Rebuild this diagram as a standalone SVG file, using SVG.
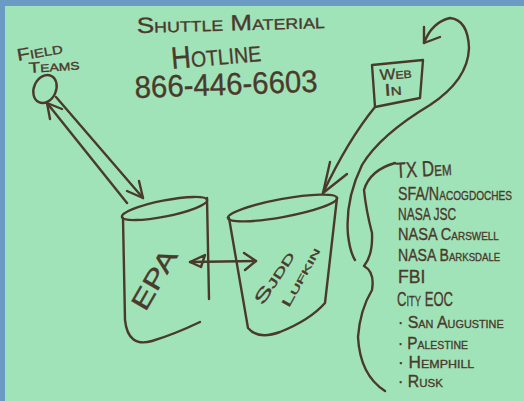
<svg xmlns="http://www.w3.org/2000/svg" width="524" height="401" viewBox="0 0 524 401">
<style>
.ink{fill:none;stroke:#4a3a2c;stroke-width:2.4;stroke-linecap:round;stroke-linejoin:round}
.t{fill:#4a3a2c;font-family:"Liberation Sans","DejaVu Sans",sans-serif;font-variant:small-caps;stroke:#4a3a2c;stroke-width:0.35}
</style>
<rect x="0" y="0" width="524" height="401" fill="#6b9bc4"/>
<rect x="5" y="6" width="519" height="395" fill="#a1e3b9"/>
<g id="title">
<text class="t" x="137" y="33" font-size="22" textLength="188" lengthAdjust="spacingAndGlyphs" transform="rotate(-1.5 137 33)">Shuttle Material</text>
<text class="t" x="172" y="69" font-size="31" textLength="90" lengthAdjust="spacingAndGlyphs" transform="rotate(-5 172 69)">Hotline</text>
<text class="t" x="135" y="98" font-size="31" textLength="183" lengthAdjust="spacingAndGlyphs" transform="rotate(-2 135 98)">866-446-6603</text>
</g>
<g id="field-teams">
<text class="t" x="18" y="61" font-size="17" textLength="46" lengthAdjust="spacingAndGlyphs" transform="rotate(-10 18 61)">Field</text>
<text class="t" x="29" y="73" font-size="15" textLength="51" lengthAdjust="spacingAndGlyphs" transform="rotate(-4 29 73)">Teams</text>
<ellipse class="ink" cx="45" cy="89" rx="11" ry="14.5" transform="rotate(25 45 89)"/>
</g>
<g id="web-in">
<path class="ink" d="M372,65 L423,60 L420,98 L375,107 Z"/>
<text class="t" x="380" y="80" font-size="15" textLength="32" lengthAdjust="spacingAndGlyphs" transform="rotate(-4 380 80)">Web</text>
<text class="t" x="385" y="96" font-size="17" textLength="17" lengthAdjust="spacingAndGlyphs" transform="rotate(-4 385 96)">In</text>
</g>
<g id="epa">
<ellipse class="ink" cx="164.5" cy="208.5" rx="43.5" ry="8" transform="rotate(-11.3 164.5 208.5)"/>
<path class="ink" d="M123,218 L125,320 Q128,348 152,341 Q175,334 200,322"/>
<path class="ink" d="M207,198 L209,299"/>
<text class="t" x="155" y="288" font-size="26" text-anchor="middle" textLength="66" lengthAdjust="spacingAndGlyphs" transform="rotate(-60 155 280)">EPA</text>
</g>
<g id="lufkin">
<ellipse class="ink" cx="282.5" cy="208" rx="55.5" ry="9" transform="rotate(-10.4 282.5 208)"/>
<path class="ink" d="M229,218 L248,328 Q258,340 280,332 Q310,320 325,303 L337,198"/>
<text class="t" x="275" y="283" font-size="17" text-anchor="middle" textLength="60" lengthAdjust="spacingAndGlyphs" transform="rotate(-57 275 278)">Sjdd</text>
<text class="t" x="302" y="281" font-size="13" text-anchor="middle" textLength="66" lengthAdjust="spacingAndGlyphs" transform="rotate(-61 302 278)">Lufkin</text>
</g>
<g id="agencies">
<text class="t" x="0" y="0" font-size="22" textLength="80" lengthAdjust="spacingAndGlyphs" transform="translate(396 178) rotate(-3) scale(0.7 1)">TX Dem</text>
<text class="t" x="0" y="0" font-size="18" textLength="163" lengthAdjust="spacingAndGlyphs" transform="translate(398 200) scale(0.7 1)">SFA/Nacogdoches</text>
<text class="t" x="0" y="0" font-size="17" textLength="83" lengthAdjust="spacingAndGlyphs" transform="translate(398 220) scale(0.7 1)">NASA JSC</text>
<text class="t" x="0" y="0" font-size="17" textLength="144" lengthAdjust="spacingAndGlyphs" transform="translate(398 240) scale(0.7 1)">NASA Carswell</text>
<text class="t" x="0" y="0" font-size="17" textLength="146" lengthAdjust="spacingAndGlyphs" transform="translate(398 261) scale(0.7 1)">NASA Barksdale</text>
<text class="t" x="0" y="0" font-size="18" textLength="39" lengthAdjust="spacingAndGlyphs" transform="translate(398 283) scale(0.7 1)">FBI</text>
<text class="t" x="0" y="0" font-size="21" textLength="80" lengthAdjust="spacingAndGlyphs" transform="translate(397 306) scale(0.7 1)">City EOC</text>
<text class="t" x="0" y="0" font-size="17" textLength="151" lengthAdjust="spacingAndGlyphs" transform="translate(398 328) scale(0.7 1)">· San Augustine</text>
<text class="t" x="0" y="0" font-size="17" textLength="100" lengthAdjust="spacingAndGlyphs" transform="translate(398 349) scale(0.7 1)">· Palestine</text>
<text class="t" x="0" y="0" font-size="16" textLength="109" lengthAdjust="spacingAndGlyphs" transform="translate(398 368) scale(0.7 1)">· Hemphill</text>
<text class="t" x="0" y="0" font-size="16" textLength="64" lengthAdjust="spacingAndGlyphs" transform="translate(398 387) scale(0.7 1)">· Rusk</text>
<path class="ink" d="M395,163 Q370,170 364,190 Q366,210 372,233 Q373,255 364,266 Q375,272 372,290 Q360,310 358,337 Q360,375 385,391"/>
</g>
<g id="connectors">
<path class="ink" d="M47,103 L127,203"/>
<path class="ink" d="M47,103 L50,119 M47,103 L62,109"/>
<path class="ink" d="M56,97 L143,198"/>
<path class="ink" d="M143,198 L127,191 M143,198 L139,181"/>
<path class="ink" d="M190,262 L256,261"/>
<path class="ink" d="M190,262 L205,255 L201,267 Z M256,261 L244,253 M256,261 L245,270"/>
<path class="ink" d="M375,107 Q348,140 323,193"/>
<path class="ink" d="M323,193 L330,162 M323,193 L347,174"/>
<path class="ink" d="M424,43 Q432,22 450,18 Q468,20 469,48 Q468,80 430,105 Q380,135 362,165 Q345,200 348,235 Q350,252 355,260"/>
<path class="ink" d="M424,43 L424,27 M424,43 L440,37"/>
</g>
</svg>
